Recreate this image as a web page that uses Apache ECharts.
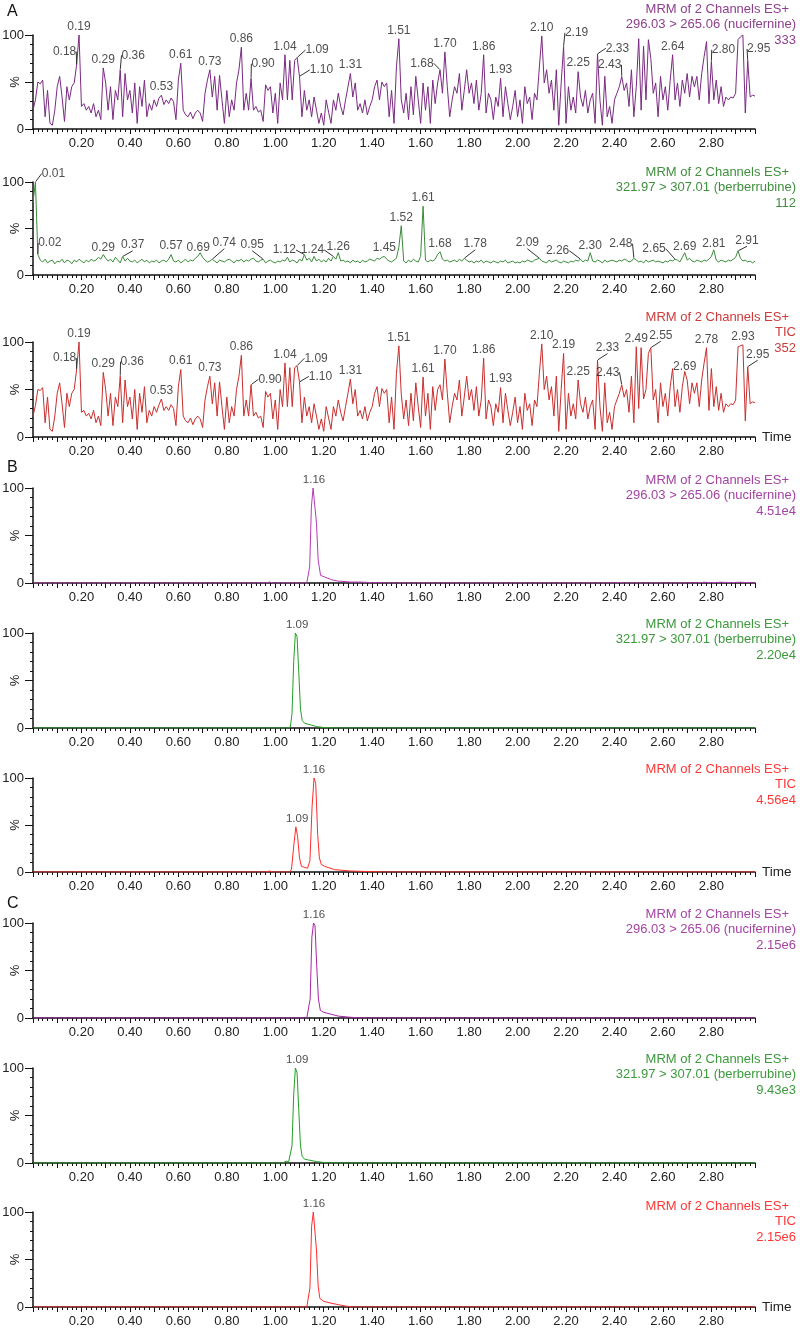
<!DOCTYPE html>
<html><head><meta charset="utf-8">
<script src="https://cdn.jsdelivr.net/npm/echarts/dist/echarts.min.js"></script>
<style>html,body{margin:0;padding:0;background:#fff}#c{width:800px;height:1331px}</style>
</head><body><div id="c"></div>
<script>
// ---------------- DATA ----------------
const xTickLabels = ['0.20','0.40','0.60','0.80','1.00','1.20','1.40','1.60','1.80','2.00','2.20','2.40','2.60','2.80'];
const yTickLabels = ['0','100'];
// Panel A traces sampled every 0.01 min starting at 0.00 min
const A_T0 = 0.00, A_DT = 0.01;
const A1_vals = [
20,31,50,48,52,13,41,6,4,20,
45,56,34,8,45,31,45,49,68,100,
24,27,20,24,17,27,13,20,10,65,
49,20,45,10,41,31,63,13,59,31,
41,17,49,6,45,24,52,13,27,20,
31,24,33,36,26,31,27,33,29,10,
52,70,20,15,13,18,11,17,20,17,
8,38,52,63,34,56,20,57,31,6,
41,13,31,20,49,63,87,20,38,20,
54,20,24,18,20,8,47,41,45,17,
38,6,49,31,79,31,73,31,73,76,
56,13,41,20,31,13,34,20,6,17,
4,31,18,6,31,20,38,24,15,31,
45,59,34,49,20,27,17,31,15,24,
31,45,52,31,50,45,49,13,41,6,
66,96,31,17,38,10,45,15,56,31,
6,49,20,45,6,52,27,49,63,38,
82,45,13,31,45,38,59,20,41,63,
38,49,27,52,20,38,79,17,38,31,
10,34,24,54,13,45,27,10,24,41,
13,31,6,45,27,34,10,38,31,66,
99,49,63,38,52,20,63,4,49,88,
6,45,20,34,17,61,34,24,41,17,
31,38,6,80,31,4,56,13,24,6,
31,38,45,56,41,49,24,63,13,45,
96,20,88,31,95,75,38,49,13,56,
31,45,20,52,79,31,49,24,52,38,
59,34,56,45,56,31,59,77,93,27,
72,31,52,27,45,24,34,31,34,33,
38,95,98,100,17,73,34,36,35];
const A2_vals = [
78,100,22,16,14,17,13,15,16,12,
15,14,17,13,16,15,12,16,14,17,
15,13,16,14,17,15,16,19,17,22,
18,15,17,14,19,16,13,20,15,18,
15,14,16,13,15,17,14,16,13,15,
14,16,13,15,16,14,17,22,15,14,
16,13,15,17,14,16,15,18,20,24,
19,16,14,15,17,15,13,16,15,14,
16,17,15,13,16,15,17,14,16,15,
17,18,15,14,16,17,13,15,16,14,
13,15,14,16,15,19,14,16,15,13,
17,15,22,16,18,14,20,15,17,14,
16,14,18,15,20,17,24,15,16,14,
15,13,16,14,15,13,16,14,15,17,
16,15,18,17,19,20,17,15,14,16,
18,30,53,15,13,16,14,17,15,14,
20,74,16,14,16,15,17,22,25,17,
15,16,14,15,16,14,17,15,18,16,
14,15,13,15,14,16,13,15,14,13,
15,14,13,15,14,16,13,14,15,13,
14,13,15,14,16,15,14,16,17,18,
15,14,13,16,14,15,16,14,13,15,
14,13,15,14,16,15,17,14,16,15,
24,15,14,16,15,13,16,14,15,16,
15,14,16,15,17,16,14,15,18,16,
14,15,13,16,14,15,16,14,15,14,
13,15,14,16,15,17,16,14,19,24,
16,18,15,14,16,15,14,16,15,17,
20,27,16,14,16,15,14,16,15,17,
19,26,18,15,16,14,15,13,15];
const A3_vals = [
22,33,50,49,52,15,42,8,6,22,
46,57,35,10,46,32,46,50,71,100,
26,28,22,25,19,28,15,22,12,68,
50,22,46,12,42,32,64,15,60,32,
42,19,50,8,46,26,53,15,28,22,
32,26,34,40,28,32,28,34,30,12,
53,71,22,17,15,20,13,19,22,19,
10,39,53,64,35,57,22,58,32,8,
42,15,32,22,50,64,86,22,39,22,
55,22,26,20,22,10,48,42,46,19,
39,8,50,32,78,32,73,32,73,75,
58,15,42,22,32,15,35,22,8,19,
6,32,20,8,32,22,39,26,17,32,
46,61,35,50,22,28,19,32,17,26,
32,46,53,32,51,46,50,15,42,8,
67,96,45,19,39,12,46,17,57,32,
10,63,22,46,8,53,28,50,55,39,
82,46,15,32,46,39,60,22,42,64,
39,50,28,53,22,39,83,19,39,32,
12,35,26,52,15,46,28,12,26,42,
15,32,8,46,28,35,12,39,32,67,
98,50,64,39,53,22,64,6,50,88,
8,46,22,35,19,60,35,26,42,19,
32,39,8,81,32,6,57,15,26,8,
32,39,46,55,42,50,26,64,15,95,
30,94,40,50,88,94,39,50,15,57,
32,46,22,53,72,32,50,26,53,69,
60,35,57,46,57,32,60,78,94,28,
72,32,53,28,46,26,35,32,35,34,
39,95,96,97,17,74,35,37,36];

const B1_t = [0.00,0.96,0.975,0.99,1.13,1.136,1.142,1.149,1.156,1.163,1.170,1.177,1.187,1.197,1.232,1.259,1.314,1.35,1.40,1.45,2.40,2.42,2.44,2.74,2.77,2.80,2.84,2.88,2.92,2.98];
const B1_v = [0,0,1,0,0,1,17,80,100,98,63,24,8,7,3.5,2,1,1,0.3,0,0,0.5,0,0,0.8,0.3,0.8,0.3,0.8,0];
const B2_t = [0.00,1.05,1.062,1.069,1.076,1.083,1.090,1.097,1.104,1.111,1.121,1.135,1.15,1.17,1.20,1.25,2.98];
const B2_v = [0,0,1,15,70,100,96,58,20,8,5,4,3,1.5,0.5,0,0];
const B3_t = [0.00,0.17,0.18,0.19,0.96,0.975,0.99,1.06,1.067,1.077,1.085,1.092,1.100,1.108,1.115,1.133,1.143,1.152,1.160,1.167,1.175,1.182,1.190,1.204,1.245,1.314,1.38,1.45,2.98];
const B3_v = [0,0,0.5,0,0,1,0,0,3,30,48,38,15,6,4,4,12,70,100,94,40,15,8,6,2.5,1,0.5,0,0];
const C1_t = [0.00,1.13,1.137,1.144,1.151,1.158,1.164,1.171,1.178,1.186,1.20,1.23,1.26,1.30,1.35,2.98];
const C1_v = [0,0,1,20,85,100,97,55,20,8,6,4,2,1,0,0];
const C2_t = [0.00,1.03,1.045,1.055,1.062,1.069,1.076,1.083,1.090,1.097,1.104,1.111,1.121,1.14,1.17,1.22,2.98];
const C2_v = [0,0,2,1,3,18,72,100,95,55,18,7,4,3,1.5,0,0];
const C3_t = [0.00,1.13,1.136,1.143,1.150,1.157,1.163,1.170,1.177,1.184,1.20,1.23,1.26,1.29,1.32,2.98];
const C3_v = [0,0,1,20,85,100,98,60,22,9,6,4,2.5,1,0,0];

const A1_peaks = ['0.18','0.19','0.29','0.36','0.53','0.61','0.73','0.86','0.90','1.04','1.09','1.10','1.31','1.51','1.68','1.70','1.86','1.93','2.10','2.19','2.25','2.33','2.43','2.64','2.80','2.95'];
const A2_peaks = ['0.01','0.02','0.29','0.37','0.57','0.69','0.74','0.95','1.12','1.24','1.26','1.45','1.52','1.61','1.68','1.78','2.09','2.26','2.30','2.48','2.65','2.69','2.81','2.91'];
const A3_peaks = ['0.18','0.19','0.29','0.36','0.53','0.61','0.73','0.86','0.90','1.04','1.09','1.10','1.31','1.51','1.61','1.70','1.86','1.93','2.10','2.19','2.25','2.33','2.43','2.49','2.55','2.69','2.78','2.93','2.95'];
const B1_peaks = ['1.16'], B2_peaks = ['1.09'], B3_peaks = ['1.09','1.16'];
const C1_peaks = ['1.16'], C2_peaks = ['1.09'], C3_peaks = ['1.16'];

const A1_hdr = ['MRM of 2 Channels ES+','296.03 > 265.06 (nucifernine)','333'];
const A2_hdr = ['MRM of 2 Channels ES+','321.97 > 307.01 (berberrubine)','112'];
const A3_hdr = ['MRM of 2 Channels ES+','TIC','352'];
const B1_hdr = ['MRM of 2 Channels ES+','296.03 > 265.06 (nucifernine)','4.51e4'];
const B2_hdr = ['MRM of 2 Channels ES+','321.97 > 307.01 (berberrubine)','2.20e4'];
const B3_hdr = ['MRM of 2 Channels ES+','TIC','4.56e4'];
const C1_hdr = ['MRM of 2 Channels ES+','296.03 > 265.06 (nucifernine)','2.15e6'];
const C2_hdr = ['MRM of 2 Channels ES+','321.97 > 307.01 (berberrubine)','9.43e3'];
const C3_hdr = ['MRM of 2 Channels ES+','TIC','2.15e6'];
const panelLetters = ['A','B','C'];

// ---------------- LAYOUT / STYLE ----------------
const FONT = 'Arial, "Liberation Sans", Helvetica, sans-serif';
const GRID_LEFT = 33, GRID_RIGHT = 45;
const GRID_TOP = [35, 182, 342, 488, 633, 778, 923, 1068, 1212];
const GRID_H   = [94, 93, 95, 95, 95, 94, 95, 95, 95];
const HDR_Y    = [9, 172, 317, 480, 624, 769, 914, 1059, 1206];
const LETTER_Y = [12, 468, 904];
// label offsets [dx, dy, leader]
const A1_off = {'0.18':[-12,-5,1],'0.36':[13,-6,1],'0.90':[12,-6,1],'1.09':[20,1,1],'1.10':[22,2,1],'1.68':[-18,2,1],'2.19':[13,-5,1],'2.33':[20,3,1],'2.43':[-12,-3,1],'2.80':[12,-3,1],'2.95':[11,-3,1]};
const A2_off = {'0.01':[18,0,1],'0.02':[12,-3,1],'0.29':[0,2,0],'0.37':[10,-3,1],'0.69':[-2,4,0],'0.74':[12,-8,1],'0.95':[-11,-6,1],'1.12':[-20,4,1],'1.24':[-21,2,1],'1.26':[0,3,0],'1.78':[11,-6,1],'2.09':[-12,-7,1],'2.26':[-23,0,1],'2.30':[0,2,0],'2.48':[-13,-6,1],'2.65':[-21,-2,1],'2.69':[0,3,0],'2.81':[0,2,0],'2.91':[9,-2,1]};
const A3_off = {'0.18':[-12,-3,1],'0.36':[12,-6,1],'0.90':[19,3,1],'1.09':[19,1,1],'1.10':[21,3,1],'2.33':[10,-4,1],'2.43':[-14,-4,1],'2.55':[10,-4,1],'2.69':[0,4,0],'2.95':[10,-4,1]};

const panels = [
  {vals:A1_vals, color:'#7a2a80', hcol:'#8e3f8e', peaks:A1_peaks, off:A1_off, hdr:A1_hdr, time:false},
  {vals:A2_vals, color:'#3b8a3b', hcol:'#3f8f3f', peaks:A2_peaks, off:A2_off, hdr:A2_hdr, time:false},
  {vals:A3_vals, color:'#c92e2e', hcol:'#cf3a3a', peaks:A3_peaks, off:A3_off, hdr:A3_hdr, time:true},
  {t:B1_t, v:B1_v, color:'#b43cb4', hcol:'#a444a4', peaks:B1_peaks, off:{}, hdr:B1_hdr, time:false},
  {t:B2_t, v:B2_v, color:'#26a026', hcol:'#3c9a3c', peaks:B2_peaks, off:{}, hdr:B2_hdr, time:false},
  {t:B3_t, v:B3_v, color:'#ff2c2c', hcol:'#ff3636', peaks:B3_peaks, off:{}, hdr:B3_hdr, time:true},
  {t:C1_t, v:C1_v, color:'#a824a8', hcol:'#a444a4', peaks:C1_peaks, off:{}, hdr:C1_hdr, time:false},
  {t:C2_t, v:C2_v, color:'#22a022', hcol:'#3c9a3c', peaks:C2_peaks, off:{}, hdr:C2_hdr, time:false},
  {t:C3_t, v:C3_v, color:'#ff2c2c', hcol:'#ff3636', peaks:C3_peaks, off:{}, hdr:C3_hdr, time:true}
];

// ---------------- BUILD ----------------
const grid = [], xAxis = [], yAxis = [], series = [], graphic = [];
panels.forEach((p, i) => {
  grid.push({left:GRID_LEFT, right:GRID_RIGHT, top:GRID_TOP[i], height:GRID_H[i], containLabel:false, outerBoundsMode:'none'});
  xAxis.push({
    type:'value', gridIndex:i, min:0, max:2.98, interval:0.1,
    axisLine:{show:true, onZero:false, lineStyle:{color:'#111', width:1.5}},
    axisTick:{show:true, length:5, lineStyle:{color:'#111', width:1}},
    minorTick:{show:true, splitNumber:5, length:3, lineStyle:{color:'#111', width:1}},
    splitLine:{show:false}, minorSplitLine:{show:false},
    axisLabel:{show:true, margin:8, fontSize:13, color:'#222', fontFamily:FONT, hideOverlap:false,
      formatter: v => { const s = v.toFixed(2); return xTickLabels.indexOf(s) >= 0 ? s : ''; }},
    name: p.time ? 'Time' : '', nameLocation:'end', nameGap:7,
    nameTextStyle:{fontSize:13.5, color:'#222', fontFamily:FONT, verticalAlign:'middle', align:'left'}
  });
  yAxis.push({
    type:'value', gridIndex:i, min:0, max:100, interval:50,
    axisLine:{show:true, lineStyle:{color:'#111', width:1.5}},
    axisTick:{show:true, length:8, lineStyle:{color:'#111', width:1}},
    minorTick:{show:true, splitNumber:5, length:3, lineStyle:{color:'#111', width:1}},
    splitLine:{show:false}, minorSplitLine:{show:false},
    axisLabel:{margin:9, fontSize:13, color:'#222', fontFamily:FONT,
      formatter: v => (v === 0 ? yTickLabels[0] : (v === 100 ? yTickLabels[1] : ''))},
    name:'%', nameLocation:'middle', nameGap:11, nameRotate:90, nameMoveOverlap:false,
    nameTextStyle:{fontSize:13, color:'#222', fontFamily:FONT}
  });
  let pts;
  if (p.vals) pts = p.vals.map((v, k) => [+(A_T0 + k * A_DT).toFixed(2), v]);
  else pts = p.t.map((t, k) => [t, p.v[k]]);
  series.push({type:'line', xAxisIndex:i, yAxisIndex:i, data:pts, showSymbol:false, symbol:'none',
    lineStyle:{color:p.color, width:1}, itemStyle:{color:p.color}, silent:true, animation:false, z:2});
  // peak labels: sampled traces use the exact sample; sparse traces use the local apex
  const lab = p.peaks.map(s => {
    const t = parseFloat(s);
    let best = null;
    if (p.vals) {
      best = pts[Math.round((t - A_T0) / A_DT)];
    } else {
      pts.forEach(q => { if (Math.abs(q[0] - t) <= 0.0121 && (!best || q[1] > best[1])) best = q; });
    }
    const o = p.off[s];
    return {value:[t, best ? best[1] : 0], labelLine:{show: !!(o && o[2])}};
  });
  const fs = p.vals ? 12 : 11.5;
  series.push({type:'scatter', xAxisIndex:i, yAxisIndex:i, data:lab, symbol:'circle', symbolSize:1,
    itemStyle:{color:'rgba(0,0,0,0)', borderWidth:0}, silent:true, animation:false, z:5,
    label:{show:true, position:'top', distance:2, fontSize:fs, color:'#222', fontFamily:FONT,
      formatter: q => p.peaks[q.dataIndex]},
    labelLine:{show:false, lineStyle:{color:'#333', width:1}},
    labelLayout: q => { const o = p.off[p.peaks[q.dataIndex]]; return o ? {dx:o[0], dy:o[1]} : {}; }
  });
  // header texts
  p.hdr.forEach((line, k) => {
    graphic.push({type:'text', x: k === 0 ? 789 : 796, y: HDR_Y[i] + k * 15.5, silent:true,
      style:{text:line, fill:p.hcol, font:'13px ' + FONT, align:'right', verticalAlign:'middle'}});
  });
});
panelLetters.forEach((L, k) => {
  graphic.push({type:'text', x:7, y:LETTER_Y[k], silent:true,
    style:{text:L, fill:'#111', font:'16px ' + FONT, align:'left', verticalAlign:'middle'}});
});

const chart = echarts.init(document.getElementById('c'), null, {renderer:'canvas'});
chart.setOption({backgroundColor:'#fff', animation:false, grid, xAxis, yAxis, series, graphic});
</script></body></html>
